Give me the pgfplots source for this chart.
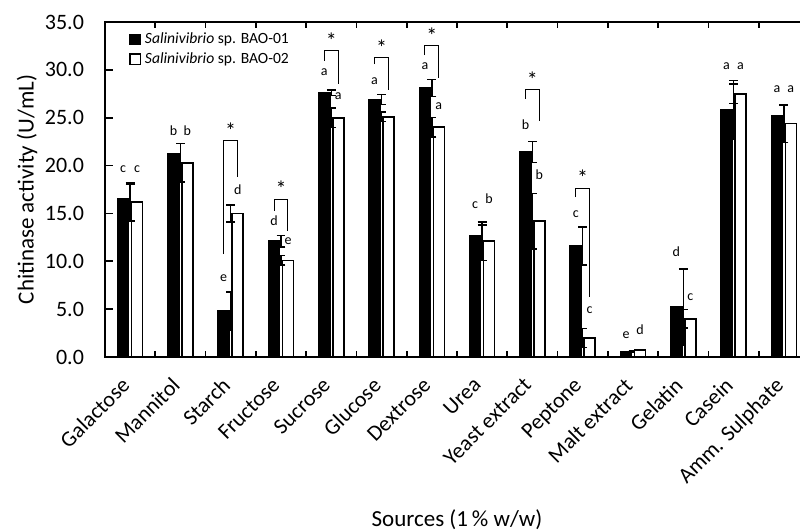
\documentclass[border=0pt]{standalone}
\usepackage{pgfplots}
\pgfplotsset{compat=1.18}
\usepackage{pgfplotstable}
\usepackage{fontspec}
\setmainfont{Carlito}

% chitinase activity, mean and error for both strains
\pgfplotstableread{
x  b    be   w    we
0  16.5 1.5  16.2 2.0
1  21.2 1.1  20.3 2.0
2  4.8  2.0  15.0 0.9
3  12.1 0.6  10.1 0.5
4  27.6 0.3  25.0 1.0
5  26.9 0.5  25.1 0.5
6  28.1 0.9  24.0 1.0
7  12.7 1.1  12.1 2.0
8  21.4 1.1  14.2 2.9
9  11.6 2.0  2.0  1.0
10 0.5  0.0  0.7  0.0
11 5.2  4.0  4.0  0.95
12 25.8 3.1  27.5 1.0
13 25.2 1.1  24.4 2.0
}\bars

% significance letters
\pgfplotstableread{
x      y     l
-0.139 19.6  c
0.139  19.6  c
0.861  23.6  b
1.139  23.6  b
1.861  8.25  e
2.139  17.5  d
2.861  14.25 d
3.139  12.15 e
3.861  29.75 a
4.139  27.3  a
4.861  28.85 a
5.861  30.4  a
6.139  26.2  a
6.861  15.9  c
7.139  16.5  b
7.861  24.25 b
8.139  19.1  b
8.861  14.9  c
9.139  4.85  c
9.861  2.3   e
10.139 2.85  d
10.861 11.0  d
11.139 6.25  c
11.861 30.4  a
12.139 30.4  a
12.861 28.0  a
13.139 28.0  a
}\letters

\pgfplotstableread{
x y l
2 23.6  *
3 17.55 *
4 33.0  *
5 32.3  *
6 33.55 *
8 29.0  *
9 18.75 *
}\stars

\begin{document}
\begin{tikzpicture}
\begin{axis}[
    name=main,
    scale only axis,
    width=352pt, height=167.5pt,
    xmin=-0.5, xmax=13.5,
    ymin=0, ymax=35,
    ytick={0,5,...,35},
    xtick={0,...,13},
    xticklabels={Galactose,Mannitol,Starch,Fructose,Sucrose,Glucose,Dextrose,Urea,Yeast extract,Peptone,Malt extract,Gelatin,Casein,Amm. Sulphate},
    minor xtick={0.5,1.5,...,12.5},
    every major x tick/.append style={draw=none},
    tick align=inside,
    major tick length=4pt,
    minor tick length=3pt,
    axis line style={line width=0.9pt},
    every tick/.append style={line width=0.8pt, black},
    tick label style={font=\fontsize{11}{13}\selectfont},
    /pgf/number format/.cd, fixed, fixed zerofill, precision=1, assume math mode=true,
    /pgfplots/.cd,
    yticklabel style={xshift=-7pt},
    xticklabel style={rotate=45, anchor=north east, inner sep=1pt, xshift=-9.2pt, yshift=-2.1pt},
    ylabel={Chitinase activity (U/mL)},
    ylabel style={font=\fontsize{11.5}{13}\selectfont, at={(axis description cs:-0.1108,0.5)}, anchor=center},
    xlabel={Sources (1\,\% w/w)},
    xlabel style={font=\fontsize{11.5}{13}\selectfont, at={(axis description cs:0.5,0)}, anchor=center, yshift=-81.5pt},
    legend style={at={(axis description cs:0,1)}, anchor=north west, draw=none, fill=none,
        xshift=9pt, yshift=-1pt, font=\fontsize{7.8}{9.5}\selectfont, row sep=-1pt},
    legend cell align=left,
    legend image code/.code={\draw[#1, line width=0.6pt] (0pt,-2.6pt) rectangle (5.2pt,2.6pt);},
]
\addplot[ybar, bar width=5.5pt, bar shift=-3.5pt, fill=black, draw=black, line width=0.8pt,
    error bars/.cd, y dir=both, y explicit,
    error bar style={line width=0.75pt, black},
    error mark options={rotate=90, mark size=2.2pt, line width=0.75pt, black}]
    table[x=x, y=b, y error=be] {\bars};
\addlegendentry{\textit{Salinivibrio} sp. BAO-01}
\addplot[ybar, bar width=5.5pt, bar shift=3.5pt, fill=white, draw=black, line width=0.8pt,
    error bars/.cd, y dir=both, y explicit,
    error bar style={line width=0.75pt, black},
    error mark options={rotate=90, mark size=2.2pt, line width=0.75pt, black}]
    table[x=x, y=w, y error=we] {\bars};
\addlegendentry{\textit{Salinivibrio} sp. BAO-02}

% brackets
\addplot[black, line width=0.5pt, forget plot] coordinates {(1.861,10.75) (1.861,22.6) (2.139,22.6) (2.139,18.8)};
\addplot[black, line width=0.5pt, forget plot] coordinates {(2.861,15.3) (2.861,16.5) (3.139,16.5) (3.139,13.2)};
\addplot[black, line width=0.5pt, forget plot] coordinates {(3.861,30.95) (3.861,32.0) (4.139,32.0) (4.139,28.5)};
\addplot[black, line width=0.5pt, forget plot] coordinates {(4.861,30.6) (4.861,31.3) (5.139,31.3) (5.139,27.9)};
\addplot[black, line width=0.5pt, forget plot] coordinates {(5.861,31.55) (5.861,32.55) (6.139,32.55) (6.139,29.15)};
\addplot[black, line width=0.5pt, forget plot] coordinates {(7.861,27.0) (7.861,28.0) (8.139,28.0) (8.139,24.7)};
\addplot[black, line width=0.5pt, forget plot] coordinates {(8.861,16.7) (8.861,17.6) (9.139,17.6) (9.139,6.25)};

\addplot[draw=none, forget plot, nodes near coords, point meta=explicit symbolic,
    every node near coord/.append style={anchor=center, inner sep=0pt, font=\fontsize{7}{8}\selectfont}]
    table[x=x, y=y, meta=l] {\letters};
\addplot[draw=none, forget plot, nodes near coords, point meta=explicit symbolic,
    every node near coord/.append style={anchor=center, inner sep=0pt, font=\fontsize{11}{12}\selectfont}]
    table[x=x, y=y, meta=l] {\stars};
\end{axis}
\pgfresetboundingbox
\useasboundingbox ([xshift=-52.5pt, yshift=-86.5pt]main.south west) rectangle ([xshift=347.5pt, yshift=11pt]main.north west);
\end{tikzpicture}
\end{document}
